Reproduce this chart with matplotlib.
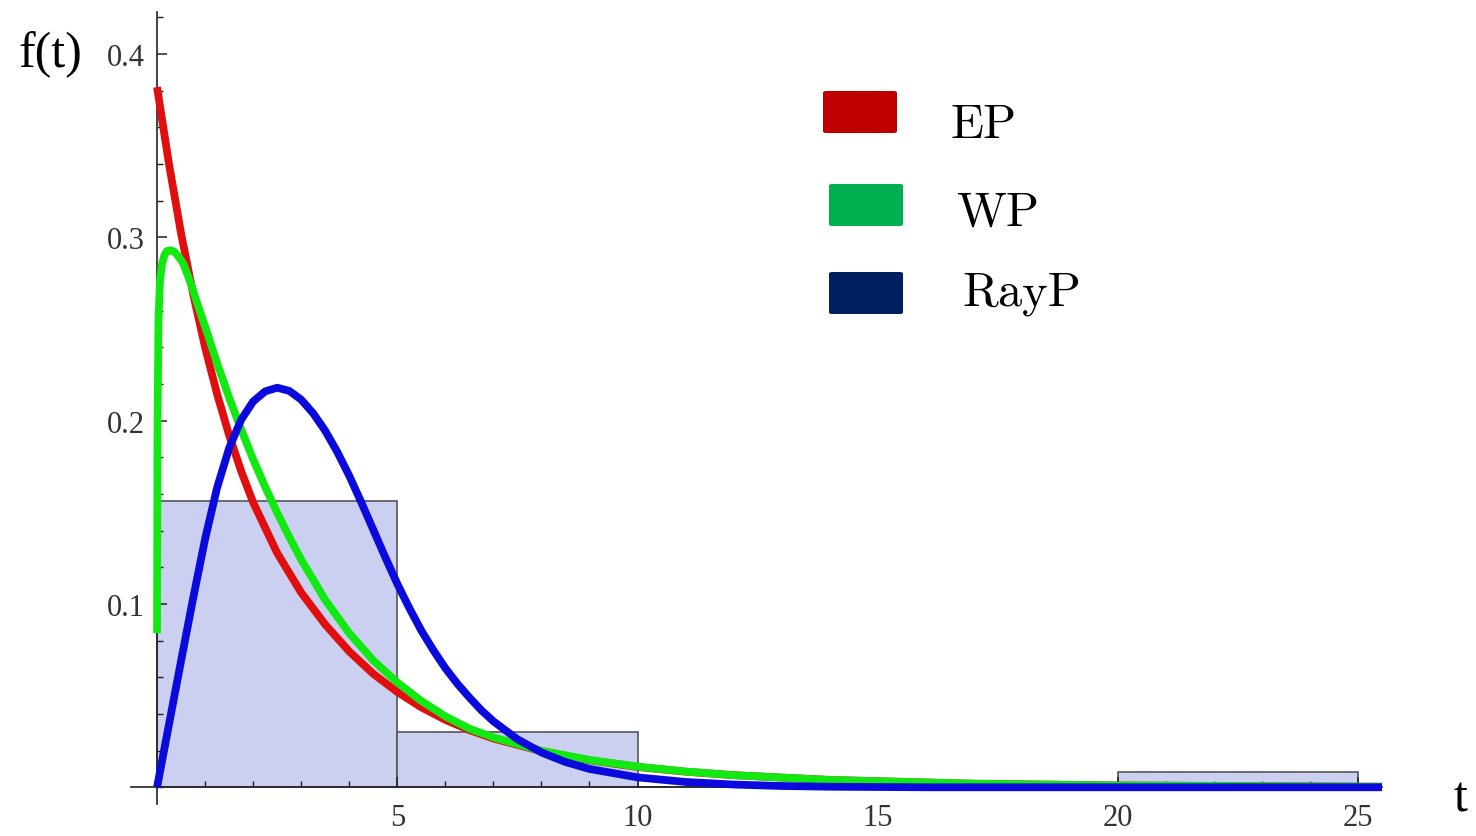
import matplotlib
matplotlib.use("Agg")
import matplotlib.pyplot as plt
from matplotlib.patches import FancyBboxPatch
from matplotlib.ticker import MultipleLocator

# histogram of observed times
bin_left = [0, 5, 10, 15, 20]
bin_height = [0.156, 0.030, 0.0, 0.0, 0.0085]

# EP curve
ep_t = [0, 0.25, 0.5, 0.75, 1.0, 1.25, 1.5, 1.75, 2.0, 2.5, 3.0, 3.5, 4.0, 4.5,
        5.0, 5.5, 6.0, 6.5, 7.0, 8.0, 9.0, 10, 11, 12, 14, 17, 20, 25.5]
ep_f = [0.382, 0.3398, 0.3021, 0.2693, 0.2400, 0.2145, 0.1921, 0.1725, 0.1554,
        0.1278, 0.1062, 0.0888, 0.0741, 0.0619, 0.0520, 0.0436, 0.0368, 0.0312,
        0.0266, 0.0197, 0.0147, 0.0111, 0.0085, 0.0066, 0.0040, 0.0019, 0.001,
        0.0003]

# WP curve
wp_t = [0, 0.01, 0.03, 0.06, 0.1, 0.15, 0.2, 0.28, 0.36, 0.45, 0.55, 0.7, 0.85,
        1.0, 1.25, 1.5, 1.75, 2.0, 2.25, 2.5, 2.75, 3.0, 3.5, 4.0, 4.5, 5.0, 5.5,
        6.0, 6.5, 7.0, 8.0, 9.0, 10, 11, 12, 14, 17, 20, 25.5]
wp_f = [0.084, 0.200, 0.255, 0.276, 0.285, 0.290, 0.2925, 0.293, 0.2922, 0.2895,
        0.2855, 0.275, 0.263, 0.2514, 0.2314, 0.2126, 0.1953, 0.1789, 0.1639,
        0.1498, 0.1366, 0.1242, 0.1022, 0.0841, 0.0692, 0.0572, 0.0471, 0.0387,
        0.0320, 0.0272, 0.0199, 0.0149, 0.0113, 0.0086, 0.0066, 0.0040, 0.0020,
        0.001, 0.0003]

# RayP curve
ray_t = [0, 0.25, 0.5, 0.75, 1.0, 1.25, 1.5, 1.75, 2.0, 2.25, 2.5, 2.75, 3.0,
         3.25, 3.5, 3.75, 4.0, 4.25, 4.5, 4.75, 5.0, 5.25, 5.5, 5.75, 6.0, 6.25,
         6.5, 6.75, 7.0, 7.5, 8.0, 8.5, 9.0, 10, 11, 12, 13, 14, 16, 25.5]
ray_f = [0, 0.0345, 0.069, 0.103, 0.1355, 0.1635, 0.1850, 0.2005, 0.2105, 0.216,
         0.218, 0.2163, 0.2115, 0.204, 0.1945, 0.1830, 0.1700, 0.1555, 0.1405,
         0.1255, 0.111, 0.0978, 0.0855, 0.0748, 0.065, 0.0565, 0.049, 0.042,
         0.036, 0.0262, 0.019, 0.0138, 0.010, 0.0054, 0.0029, 0.0015, 0.0007,
         0.0003, 0, 0]

legend_names = ["EP", "WP", "RayP"]
legend_colors = ["#C00000", "#00B050", "#002060"]

fig = plt.figure(figsize=(14.76, 8.37), dpi=100)
ax = fig.add_axes([0.0885, 0.0385, 0.848, 0.946])

ax.bar(bin_left, bin_height, width=5, align="edge", color="#CBD0F0",
       edgecolor="#555555", linewidth=1.2, zorder=1)

line_kw = dict(lw=5.6, solid_capstyle="butt", solid_joinstyle="round", zorder=3)
ax.plot(ep_t, ep_f, color="#E00E0E", **line_kw)
ax.plot(wp_t, wp_f, color="#12E812", **line_kw)
ax.plot(ray_t, ray_f, color="#0A0ADC", **line_kw)

ax.set_xlim(-0.55, 25.5)
ax.set_ylim(-0.009, 0.423)

for s in ["top", "right"]:
    ax.spines[s].set_visible(False)
ax.spines["left"].set_position(("data", 0))
ax.spines["bottom"].set_position(("data", 0))
ax.spines["left"].set_color("#222222")
ax.spines["bottom"].set_color("#222222")
ax.spines["left"].set_linewidth(1.2)
ax.spines["bottom"].set_linewidth(1.2)
ax.patch.set_visible(False)

ax.set_xticks([5, 10, 15, 20, 25])
ax.xaxis.set_minor_locator(MultipleLocator(1))
ax.set_yticks([0.1, 0.2, 0.3, 0.4])
ax.yaxis.set_minor_locator(MultipleLocator(0.02))
ax.tick_params(which="both", direction="in", color="#222222")
ax.tick_params(which="major", length=7, width=1.1)
ax.tick_params(which="minor", length=4, width=1.0)
ax.tick_params(axis="x", which="major", pad=11)
ax.tick_params(axis="y", which="major", pad=9)
for lab in ax.get_xticklabels() + ax.get_yticklabels():
    lab.set_fontfamily("Liberation Serif")
    lab.set_fontsize(22)
    lab.set_color("#333333")

fig.text(50 / 1476, 1 - 55 / 837, "f(t)", fontsize=36, family="Liberation Serif",
         ha="center", va="center")
fig.text(1460 / 1476, 1 - 799 / 837, "t", fontsize=36, family="Liberation Serif",
         ha="center", va="center")

# legend boxes drawn like the reference
box_x = [823, 829, 829]
box_y = [92, 185, 273]
text_x = [950, 956, 962]
text_base = [138, 226, 305]
for name, col, bx, by, tx, tb in zip(legend_names, legend_colors, box_x, box_y,
                                     text_x, text_base):
    fig.patches.append(FancyBboxPatch((bx / 1476, 1 - (by + 42) / 837), 74 / 1476, 42 / 837,
                                      boxstyle="round,pad=0,rounding_size=0.002",
                                      transform=fig.transFigure, facecolor=col,
                                      edgecolor="none"))
    fig.text(tx / 1476, 1 - tb / 837, name, fontsize=35, family="cmr10",
             ha="left", va="baseline")

fig.savefig("out.png", dpi=100)
